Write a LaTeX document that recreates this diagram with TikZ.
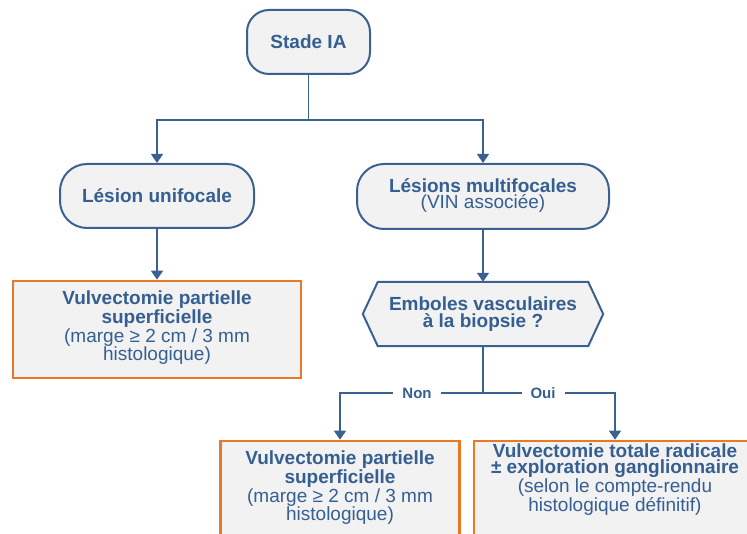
\documentclass[tikz,border=0pt]{standalone}
\usepackage{fontspec}
\setmainfont{Liberation Sans}
\usetikzlibrary{arrows.meta,calc}
\definecolor{flowblue}{HTML}{3A6192}
\definecolor{flowtext}{HTML}{365F91}
\definecolor{floworange}{HTML}{EB7823}
\definecolor{flowfill}{HTML}{F2F2F2}
\begin{document}
\begin{tikzpicture}[x=1pt,y=-1pt,
  txt/.style={font=\fontsize{19}{16.2}\selectfont, text=flowtext, align=center, inner sep=0pt},
  pill/.style={draw=flowblue, line width=2pt, fill=flowfill, rounded corners=22pt, inner sep=0pt},
  actbox/.style={draw=floworange, line width=2.6pt, fill=flowfill, inner sep=0pt},
  link/.style={draw=flowblue, line width=1.5pt},
  arrowlink/.style={link, -{Triangle[width=12pt,length=9pt]}},
  lab/.style={font=\fontsize{15}{15}\selectfont\bfseries, text=flowtext, fill=white, inner xsep=9pt, inner ysep=2pt}
]
\useasboundingbox (0,0) rectangle (747,534);
\clip (0,0) rectangle (747,534);

% start node
\node[pill, minimum width=123pt, minimum height=64pt] (stade) at (308.5,42) {};
\node[txt] at (stade.center) {\bfseries Stade IA};

% first split
\node[pill, rounded corners=27pt, minimum width=194pt, minimum height=64pt] (uni) at (157,196) {};
\node[txt] at (uni.center) {\bfseries Lésion unifocale};
\node[pill, rounded corners=27pt, minimum width=252pt, minimum height=65pt] (multi) at (483,196.5) {};
\node[txt] at ($(multi.center)+(0,-1)$) {\bfseries Lésions multifocales\\(VIN associée)};

\coordinate (j1) at (308.5,120);
\draw[link] (stade.south) -- (j1);
\draw[arrowlink] (j1) -| (uni.north);
\draw[arrowlink] (j1) -| (multi.north);

% left branch
\node[actbox, minimum width=288pt, minimum height=97pt] (boxa) at (157,329.5) {};
\node[txt, anchor=north] at ($(boxa.north)+(0,11)$) {\bfseries Vulvectomie partielle\\\bfseries superficielle\\(marge ≥ 2 cm / 3 mm\\histologique)};
\draw[arrowlink] (uni.south) -- (boxa.north);

% decision
\node[minimum width=240pt, minimum height=64pt, inner sep=0pt] (hex) at (483,314) {};
\draw[draw=flowblue, line width=2pt, fill=flowfill]
  (hex.west) -- ($(hex.north west)+(15,0)$) -- ($(hex.north east)+(-15,0)$) -- (hex.east)
  -- ($(hex.south east)+(-15,0)$) -- ($(hex.south west)+(15,0)$) -- cycle;
\node[txt] at (hex.center) {\bfseries Emboles vasculaires\\\bfseries à la biopsie ?};
\draw[arrowlink] (multi.south) -- (hex.north);

% outcomes
\node[actbox, minimum width=239pt, minimum height=98pt] (boxb) at (340,490) {};
\node[txt, anchor=north] at ($(boxb.north)+(0,11)$) {\bfseries Vulvectomie partielle\\\bfseries superficielle\\(marge ≥ 2 cm / 3 mm\\histologique)};
\node[actbox, minimum width=282pt, minimum height=98pt] (boxc) at (615,490) {};
\node[txt, anchor=north] at ($(boxc.north)+(0,4)$) {\bfseries Vulvectomie totale radicale\\\bfseries ± exploration ganglionnaire\\(selon le compte-rendu\\histologique définitif)};

\coordinate (j2) at (483,393);
\draw[link] (hex.south) -- (j2);
\draw[arrowlink] (j2) -| (boxb.north);
\draw[arrowlink] (j2) -| (boxc.north);
\node[lab] at (417,393) {Non};
\node[lab] at (543,393) {Oui};
\end{tikzpicture}
\end{document}
